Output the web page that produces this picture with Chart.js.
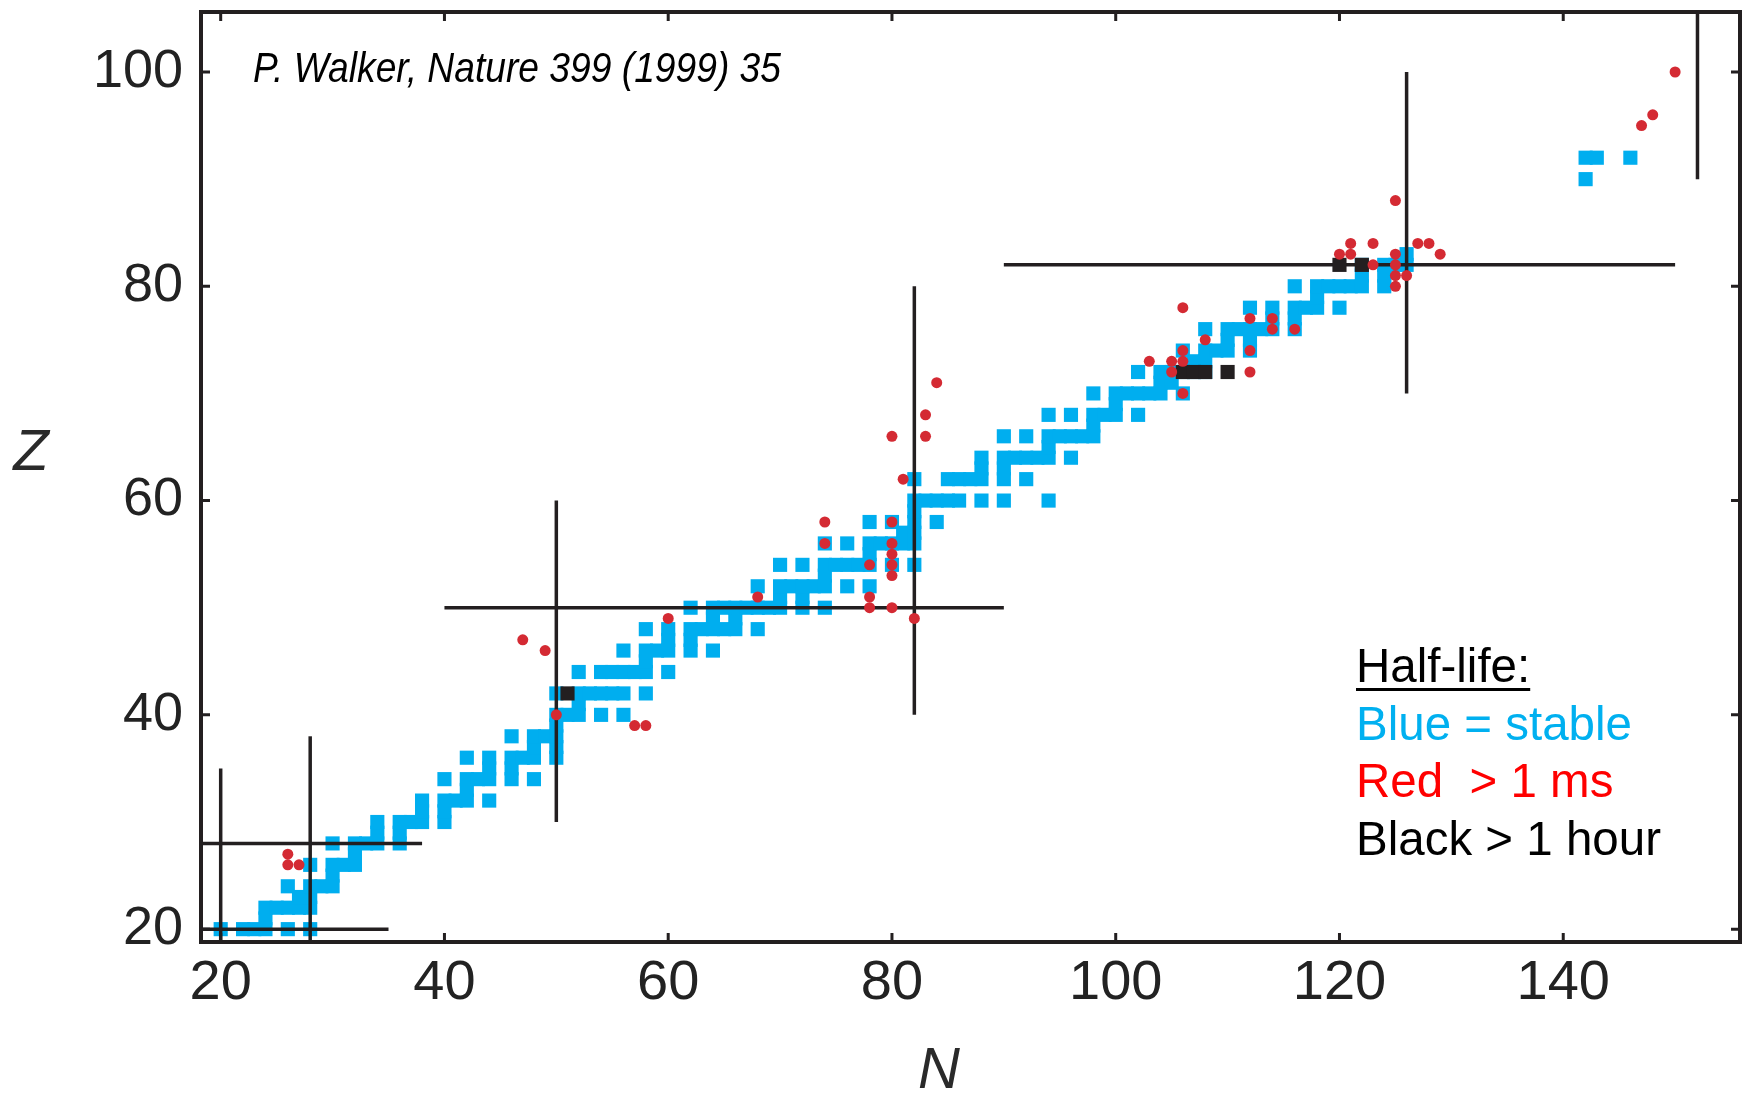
<!DOCTYPE html>
<html>
<head>
<meta charset="utf-8">
<script src="https://cdn.jsdelivr.net/npm/chart.js@4.4.1/dist/chart.umd.min.js"></script>
<style>
  html, body { margin: 0; padding: 0; background: #fff; }
</style>
</head>
<body>
<canvas id="chart" width="1743" height="1093"></canvas>
<script>
// stable nuclides: one Z per entry, with the N values drawn for it
const stableZ = [20, 21, 22, 23, 24, 25, 26, 27, 28, 29, 30, 31, 32, 33, 34, 35, 36, 37, 38, 39,
                 40, 41, 42, 44, 45, 46, 47, 48, 49, 50, 51, 52, 53, 54, 55, 56, 57, 58, 59, 60,
                 62, 63, 64, 65, 66, 67, 68, 69, 70, 71, 72, 73, 74, 75, 76, 77, 78, 79, 80, 81,
                 82, 83, 90, 92];
const stableN = [
  [20, 22, 23, 24, 26, 28], [24], [24, 25, 26, 27, 28], [27, 28], [26, 28, 29, 30], [30],
  [28, 30, 31, 32], [32], [30, 32, 33, 34, 36], [34, 36], [34, 36, 37, 38, 40], [38, 40],
  [38, 40, 41, 42, 44], [42], [40, 42, 43, 44, 46, 48], [44, 46], [42, 44, 46, 47, 48, 50],
  [48, 50], [46, 48, 49, 50], [50],
  [50, 51, 52, 54, 56], [52], [50, 52, 53, 54, 55, 56, 58], [52, 54, 55, 56, 57, 58, 60], [58],
  [56, 58, 59, 60, 62, 64], [60, 62], [58, 60, 62, 63, 64, 65, 66, 68], [64, 66],
  [62, 64, 65, 66, 67, 68, 69, 70, 72, 74], [70, 72], [68, 70, 71, 72, 73, 74, 76, 78], [74],
  [70, 72, 74, 75, 76, 77, 78, 80, 82], [78], [74, 76, 78, 79, 80, 81, 82], [81, 82],
  [78, 80, 82, 84], [82], [82, 83, 84, 85, 86, 88, 90, 94],
  [82, 85, 86, 87, 88, 90, 92], [88, 90], [88, 90, 91, 92, 93, 94, 96], [94],
  [90, 92, 94, 95, 96, 97, 98], [98], [94, 96, 98, 99, 100, 102], [100],
  [98, 100, 101, 102, 103, 104, 106], [104, 105], [102, 104, 105, 106, 107, 108], [107, 108],
  [106, 108, 109, 110, 112], [110, 112], [108, 110, 111, 112, 113, 114, 116], [114, 116],
  [112, 114, 116, 117, 118, 120], [118], [116, 118, 119, 120, 121, 122, 124], [122, 124],
  [122, 124, 125, 126], [126], [142], [142, 143, 146]
];

// isomers, half-life > 1 ms (red dots)
const msIsomerN = [26, 27, 26, 47, 49, 50, 57, 58, 60, 68, 74, 74, 78, 78, 78, 80, 80, 80, 80, 80,
                   80, 82, 81, 80, 83, 83, 84, 103, 105, 105, 106, 106, 106, 106, 108, 112, 114, 114, 116, 112,
                   112, 120, 121, 121, 123, 123, 125, 125, 125, 125, 125, 126, 127, 128, 129, 147, 148, 150];
const msIsomerZ = [26, 26, 27, 47, 46, 40, 39, 39, 49, 51, 58, 56, 54, 51, 50, 58, 56, 55, 54, 53,
                   50, 49, 62, 66, 66, 68, 71, 73, 73, 72, 74, 73, 70, 78, 75, 77, 77, 76, 76, 74,
                   72, 83, 83, 84, 84, 82, 88, 83, 82, 81, 80, 81, 84, 84, 83, 95, 96, 100];

// isomers, half-life > 1 hour (black squares)
const hourIsomerN = [51, 106, 107, 108, 110, 120, 122];
const hourIsomerZ = [42, 72, 72, 72, 72, 82, 82];

// magic-number guide lines
const vLineN = [20, 28, 50, 82, 126, 152];
const vLineZFrom = [15, 15, 30, 40, 70, 90];
const vLineZTo = [35, 38, 60, 80, 100, 110];
const hLineZ = [20, 28, 50, 82];
const hLineNFrom = [15, 15, 40, 90];
const hLineNTo = [35, 38, 90, 150];

const nTicks = [20, 40, 60, 80, 100, 120, 140];
const zTicks = [20, 40, 60, 80, 100];

const legendLines = ['Half-life:', 'Blue = stable', 'Red  > 1 ms', 'Black > 1 hour'];
const legendColors = ['#000000', '#00b0f0', '#ff0000', '#000000'];
const citation = 'P. Walker, Nature 399 (1999) 35';

const INK = '#231f20';
const FONT = '"Liberation Sans", Arial, sans-serif';

const bluePts = stableZ.flatMap((z, i) => stableN[i].map(n => ({ x: n, y: z })));
const redPts = msIsomerN.map((n, i) => ({ x: n, y: msIsomerZ[i] }));
const blackPts = hourIsomerN.map((n, i) => ({ x: n, y: hourIsomerZ[i] }));

function guide(points) {
    return {
        data: points, showLine: true, borderColor: INK, borderWidth: 3.5,
        pointRadius: 0, pointHoverRadius: 0, order: 3
    };
}

const guideSets = [];
vLineN.forEach((n, i) => guideSets.push(guide([{ x: n, y: vLineZFrom[i] }, { x: n, y: vLineZTo[i] }])));
hLineZ.forEach((z, i) => guideSets.push(guide([{ x: hLineNFrom[i], y: z }, { x: hLineNTo[i], y: z }])));

const framePlugin = {
    id: 'frame',
    afterDraw(chart) {
        const { ctx, chartArea: a, scales: { x, y } } = chart;
        ctx.save();
        ctx.strokeStyle = INK;
        ctx.lineWidth = 4;
        ctx.strokeRect(a.left, a.top, a.right - a.left, a.bottom - a.top);

        // inward tick marks on all four sides
        ctx.lineWidth = 3;
        const tl = 9;
        ctx.beginPath();
        nTicks.forEach(v => {
            const px = x.getPixelForValue(v);
            ctx.moveTo(px, a.bottom); ctx.lineTo(px, a.bottom - tl);
            ctx.moveTo(px, a.top); ctx.lineTo(px, a.top + tl);
        });
        zTicks.forEach(v => {
            const py = y.getPixelForValue(v);
            ctx.moveTo(a.left, py); ctx.lineTo(a.left + tl, py);
            ctx.moveTo(a.right, py); ctx.lineTo(a.right - tl, py);
        });
        ctx.stroke();

        // axis titles
        ctx.fillStyle = '#2a2a2a';
        ctx.font = 'italic 58px ' + FONT;
        ctx.textAlign = 'center';
        ctx.textBaseline = 'middle';
        ctx.fillText('N', 939, 1072);
        ctx.fillText('Z', 31, 454);

        // citation, a narrow italic face
        ctx.fillStyle = '#000';
        ctx.font = 'italic 43px ' + FONT;
        ctx.textAlign = 'left';
        const w = ctx.measureText(citation).width;
        ctx.save();
        ctx.translate(253, 70);
        ctx.scale(528 / w, 1);
        ctx.fillText(citation, 0, 0);
        ctx.restore();

        // half-life key
        ctx.font = '47.5px ' + FONT;
        legendLines.forEach((t, i) => {
            ctx.fillStyle = legendColors[i];
            ctx.fillText(t, 1356, 669 + i * 57.5);
        });
        const uw = ctx.measureText(legendLines[0]).width;
        ctx.fillStyle = '#000';
        ctx.fillRect(1356, 688, uw, 3);
        ctx.restore();
    }
};

new Chart(document.getElementById('chart'), {
    type: 'scatter',
    data: {
        datasets: [
            { data: redPts, pointStyle: 'circle', pointRadius: 5.5, backgroundColor: '#d42a33', borderWidth: 0, order: 1 },
            { data: blackPts, pointStyle: 'rect', pointRadius: 10, backgroundColor: INK, borderWidth: 0, order: 2 },
            ...guideSets,
            { data: bluePts, pointStyle: 'rect', pointRadius: 10, backgroundColor: '#00aeef', borderWidth: 0, order: 4 }
        ]
    },
    options: {
        responsive: false, animation: false, devicePixelRatio: 1,
        layout: { autoPadding: false, padding: { top: 12, right: 3, left: 0, bottom: 0 } },
        plugins: { legend: { display: false }, tooltip: { enabled: false } },
        scales: {
            x: {
                type: 'linear', min: 18.24, max: 155.8,
                afterBuildTicks: s => { s.ticks = nTicks.map(v => ({ value: v })); },
                afterFit: s => { s.height = 151; s.paddingLeft = 0; s.paddingRight = 0; },
                grid: { display: false, drawTicks: false }, border: { display: false },
                ticks: { font: { family: FONT, size: 56 }, color: '#222', padding: 8, maxRotation: 0 }
            },
            y: {
                type: 'linear', min: 18.8, max: 105.6,
                afterBuildTicks: s => { s.ticks = zTicks.map(v => ({ value: v })); },
                afterFit: s => { s.width = 201; s.paddingTop = 0; s.paddingBottom = 0; },
                grid: { display: false, drawTicks: false }, border: { display: false },
                ticks: { font: { family: FONT, size: 54 }, color: '#222', padding: 18 }
            }
        }
    },
    plugins: [framePlugin]
});
</script>
</body>
</html>
